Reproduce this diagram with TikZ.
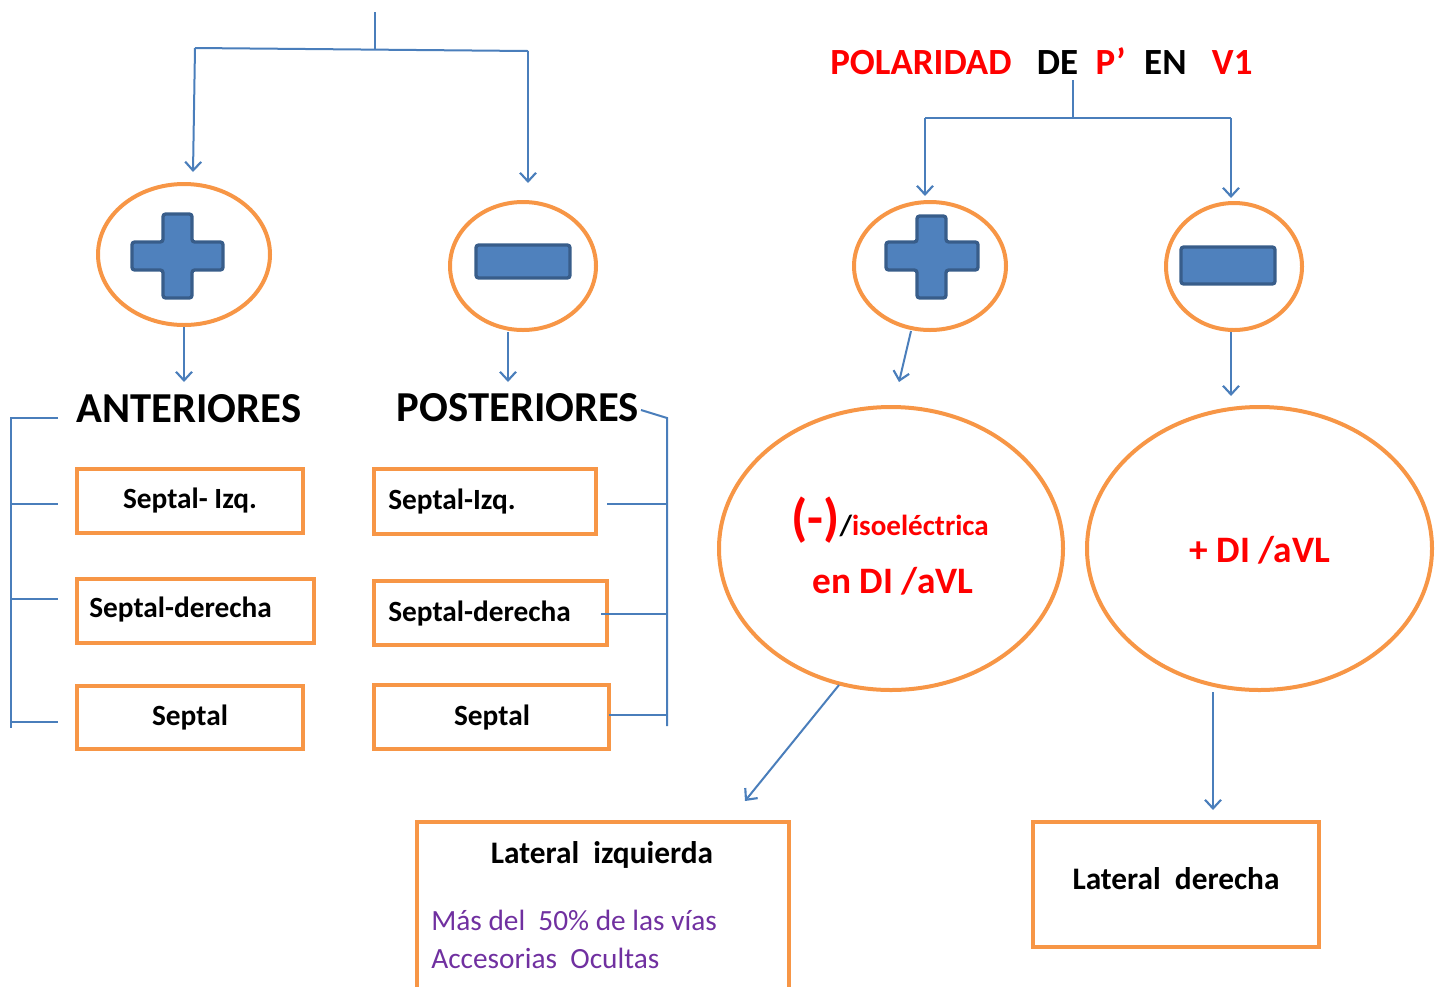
\documentclass[tikz,border=0pt]{standalone}
\usepackage{fontspec}
\setmainfont{Carlito}
\usetikzlibrary{shapes.geometric,arrows.meta}
\definecolor{org}{HTML}{F79646}
\definecolor{lnk}{HTML}{4A7EBB}
\definecolor{pfill}{HTML}{4F81BD}
\definecolor{pedge}{HTML}{385D8A}
\definecolor{purp}{HTML}{7030A0}
\definecolor{rd}{HTML}{FF0000}
\begin{document}
\begin{tikzpicture}[x=0.75pt,y=-0.75pt,
  oval/.style={ellipse,draw=org,line width=3pt,inner sep=0pt,align=center},
  box/.style={rectangle,draw=org,line width=3pt,inner sep=0pt},
  conn/.style={draw=lnk,line width=1.5pt},
  arr/.style={conn,-{Straight Barb[length=6.5pt,width=12pt,line width=1.6pt]}},
  sign/.style={fill=pfill,draw=pedge,line width=2.5pt,rounded corners=2pt},
  lbl/.style={inner sep=0pt,font=\bfseries\fontsize{22}{24}\selectfont},
  head/.style={inner sep=0pt,font=\bfseries\fontsize{32}{34}\selectfont},
  redt/.style={inner sep=0pt,text=rd,font=\bfseries\fontsize{28}{32}\selectfont}]
\useasboundingbox (0,0) rectangle (1438,986);

% ---------- left tree ----------
\coordinate (top) at (375,12);
\coordinate (j1) at (375,49);
\coordinate (l1) at (195,48);
\coordinate (r1) at (528,51);
\coordinate (a1) at (193,172);
\coordinate (a2) at (528,183);
\draw[conn] (top) -- (j1);
\draw[conn] (l1) -- (r1);
\draw[arr] (l1) -- (a1);
\draw[arr] (r1) -- (a2);

\node[oval,minimum width=129pt,minimum height=105.75pt] (e1) at (184,254.5) {};
\node[oval,minimum width=109.5pt,minimum height=96pt] (e2) at (523,266) {};
\draw[sign] (163,214) -- (192,214) -- (192,242) -- (223,242) -- (223,270) -- (192,270) -- (192,298) -- (163,298) -- (163,270) -- (132,270) -- (132,242) -- (163,242) -- cycle;
\draw[sign] (476,245) rectangle (570,278);

\coordinate (a3) at (184,382);
\coordinate (a4) at (508,382);
\draw[arr] (e1.south) -- (a3);
\draw[arr] (e2.south -| a4) -- (a4);

\node[head,anchor=base] (hA) at (189,422) {ANTERIORES};
\node[head,anchor=base] (hP) at (518,421) {POSTERIORES};

\node[box,minimum width=169.5pt,minimum height=48pt] (b1) at (190,501) {};
\node[box,minimum width=177.75pt,minimum height=48pt] (b2) at (195.5,611) {};
\node[box,minimum width=169.5pt,minimum height=47.25pt] (b3) at (190,717.5) {};
\node[box,minimum width=166.5pt,minimum height=48.75pt] (b4) at (485,501.5) {};
\node[box,minimum width=174.75pt,minimum height=48pt] (b5) at (490.5,613) {};
\node[box,minimum width=176.25pt,minimum height=48pt] (b6) at (491.5,717) {};

\node[lbl,anchor=base] (t1) at (190,508) {Septal- Izq.};
\node[lbl,anchor=base west] (t2) at (89,617) {Septal-derecha};
\node[lbl,anchor=base] (t3) at (190,725) {Septal};
\node[lbl,anchor=base west] (t4) at (388,509) {Septal-Izq.};
\node[lbl,anchor=base west] (t5) at (388,621) {Septal-derecha};
\node[lbl,anchor=base] (t6) at (492,725) {Septal};

% left bracket
\coordinate (lb0) at (11,418);
\coordinate (lb1) at (11,728);
\draw[conn] (58,418) -- (lb0) -- (lb1);
\draw[conn] (11,504) -- (58,504);
\draw[conn] (11,599) -- (58,599);
\draw[conn] (11,722) -- (58,722);

% right bracket
\coordinate (rb0) at (667,418);
\coordinate (rb1) at (667,726);
\draw[conn] (641,410) -- (rb0) -- (rb1);
\draw[conn] (607,504) -- (667,504);
\draw[conn] (601,614) -- (667,614);
\draw[conn] (609,715) -- (667,715);

% ---------- right tree ----------
\node[inner sep=0pt,anchor=base west,font=\bfseries\fontsize{27.7}{30}\selectfont] (pol) at (830,74)
  {\textcolor{rd}{POLARIDAD}\hspace{19pt}DE\hspace{13pt}\textcolor{rd}{P’}\hspace{14pt}EN\hspace{19pt}\textcolor{rd}{V1}};
\coordinate (p0) at (1073,80);
\coordinate (p1) at (1073,118);
\coordinate (pl) at (925,118);
\coordinate (pr) at (1231,118);
\coordinate (a5) at (925,196);
\coordinate (a6) at (1231,198);
\draw[conn] (p0) -- (p1);
\draw[conn] (pl) -- (pr);
\draw[arr] (pl) -- (a5);
\draw[arr] (pr) -- (a6);

\node[oval,minimum width=114pt,minimum height=96pt] (e3) at (930,266) {};
\node[oval,minimum width=102pt,minimum height=95.25pt] (e4) at (1234,266.5) {};
\draw[sign] (917,216) -- (946,216) -- (946,242) -- (978,242) -- (978,270) -- (946,270) -- (946,298) -- (917,298) -- (917,270) -- (886,270) -- (886,242) -- (917,242) -- cycle;
\draw[sign] (1181,247) rectangle (1275,284);

\coordinate (a7) at (899,382);
\coordinate (a8) at (1231,396);
\draw[arr] (911,331) -- (a7);
\draw[arr] (e4.south -| a8) -- (a8);

\node[oval,minimum width=258pt,minimum height=212.25pt] (e5) at (891,548.5) {};
\node[oval,minimum width=258.75pt,minimum height=212.25pt] (e6) at (1259.5,548.5) {};

\node[inner sep=0pt,anchor=base,text=rd,font=\bfseries\fontsize{21.8}{24}\selectfont] (iso) at (890,535)
  {{\fontsize{39}{40}\selectfont(-)}{\color{black}/}isoeléctrica};
\node[redt,anchor=base] (enDI) at (893,593) {en DI /aVL};
\node[redt,anchor=base] (plDI) at (1260,562) {+ DI /aVL};

\coordinate (a9) at (745,801);
\coordinate (a10) at (1213,810);
\draw[arr] (839,685) -- (a9);
\draw[arr] (e6.south -| a10) -- (a10);

\node[box,minimum width=279pt,minimum height=129pt] (b7) at (603,908) {};
\node[box,minimum width=214.5pt,minimum height=93.75pt] (b8) at (1176,884.5) {};

\node[inner sep=0pt,anchor=base,font=\bfseries\fontsize{23.5}{26}\selectfont] (li) at (602,863) {Lateral\ \ izquierda};
\node[inner sep=0pt,anchor=base west,text=purp,font=\fontsize{22}{24}\selectfont] (m1) at (431,930) {Más del\ \ 50\% de las vías};
\node[inner sep=0pt,anchor=base west,text=purp,font=\fontsize{22}{24}\selectfont] (m2) at (431,968) {Accesorias\ \ Ocultas};
\node[inner sep=0pt,anchor=base,font=\bfseries\fontsize{23.5}{26}\selectfont] (ld) at (1176,889) {Lateral\ \ derecha};
\end{tikzpicture}
\end{document}
